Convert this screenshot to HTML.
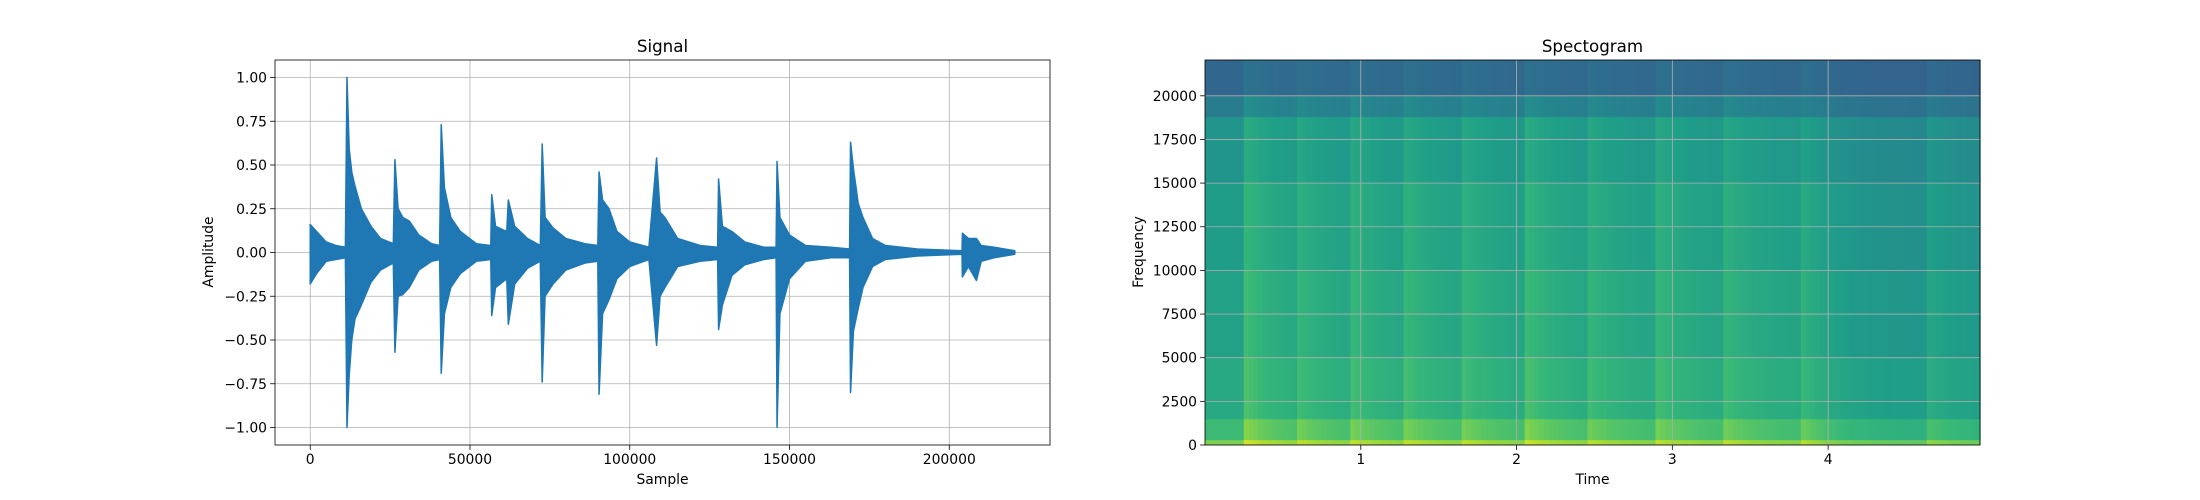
<!DOCTYPE html>
<html><head><meta charset="utf-8"><style>
html,body{margin:0;padding:0;background:#fff}
svg{display:block;font-family:"DejaVu Sans","Liberation Sans",sans-serif}
</style></head><body>
<svg id="fig" width="2200" height="500" viewBox="0 0 2200 500" xmlns="http://www.w3.org/2000/svg"></svg>
<script>
// ---- Signal data (envelope) ----
const sigUpper = [[0,0.16],[2000,0.12],[5000,0.06],[8000,0.04],[11000,0.03],[11500,1.0],[12200,0.59],[13000,0.46],[14000,0.38],[16000,0.25],[19000,0.15],[22000,0.08],[26000,0.05],[26500,0.53],[27500,0.25],[29000,0.2],[31000,0.18],[34000,0.1],[38000,0.05],[40500,0.04],[41000,0.73],[42000,0.37],[44000,0.2],[47000,0.12],[52000,0.05],[56500,0.04],[56800,0.33],[58000,0.15],[61500,0.12],[62000,0.30],[64000,0.15],[68000,0.08],[72000,0.04],[72600,0.62],[73500,0.2],[76000,0.14],[80000,0.08],[86000,0.05],[90000,0.04],[90400,0.46],[91500,0.3],[93500,0.25],[96000,0.12],[100000,0.06],[106000,0.03],[108400,0.54],[109500,0.23],[111000,0.2],[115000,0.08],[122000,0.04],[127500,0.03],[127800,0.42],[129000,0.15],[132000,0.12],[136000,0.06],[142000,0.03],[145800,0.03],[146100,0.52],[147000,0.2],[150000,0.1],[155000,0.04],[163000,0.03],[168800,0.02],[169100,0.63],[170000,0.48],[171500,0.28],[173000,0.2],[176000,0.08],[180000,0.04],[190000,0.02],[204000,0.01],[204100,0.11],[206000,0.08],[208500,0.08],[210000,0.04],[214000,0.03],[220500,0.01]];
const sigLower = [[0,-0.18],[2000,-0.12],[5000,-0.05],[8000,-0.04],[11000,-0.03],[11500,-1.0],[12200,-0.7],[13000,-0.5],[14000,-0.38],[16000,-0.3],[19000,-0.17],[22000,-0.1],[26000,-0.06],[26500,-0.57],[27500,-0.25],[29000,-0.24],[31000,-0.2],[34000,-0.1],[38000,-0.05],[40500,-0.04],[41000,-0.69],[42000,-0.35],[44000,-0.2],[47000,-0.12],[52000,-0.05],[56500,-0.04],[56800,-0.36],[58000,-0.2],[61500,-0.15],[62000,-0.41],[64000,-0.18],[68000,-0.09],[72000,-0.05],[72600,-0.74],[73500,-0.25],[76000,-0.18],[80000,-0.1],[86000,-0.06],[90000,-0.05],[90400,-0.81],[91500,-0.35],[93500,-0.27],[96000,-0.15],[100000,-0.08],[106000,-0.04],[108400,-0.53],[109500,-0.25],[111000,-0.2],[115000,-0.08],[122000,-0.05],[127500,-0.04],[127800,-0.44],[129000,-0.3],[132000,-0.13],[136000,-0.07],[142000,-0.04],[145800,-0.03],[146100,-1.0],[147000,-0.35],[150000,-0.15],[155000,-0.05],[163000,-0.03],[168800,-0.03],[169100,-0.80],[170000,-0.45],[171500,-0.32],[173000,-0.2],[176000,-0.08],[180000,-0.04],[190000,-0.02],[204000,-0.01],[204100,-0.14],[206000,-0.08],[208500,-0.16],[210000,-0.05],[214000,-0.03],[220500,-0.01]];
const sigXTicks = [0,50000,100000,150000,200000];
const sigYTicks = [-1.0,-0.75,-0.5,-0.25,0,0.25,0.5,0.75,1.0];
const sigYTickLabels = ["\u22121.00","\u22120.75","\u22120.50","\u22120.25","0.00","0.25","0.50","0.75","1.00"];
// ---- Spectrogram data ----
const onsetTimes = [0.26,0.59,0.93,1.29,1.65,2.05,2.46,2.90,3.32,3.84,4.64];
const onsetStrength = [1.0,0.8,0.85,0.8,0.8,1.0,0.75,0.8,0.8,1.0,0.6];
const bandTops = [300,1500,5000,10000,15000,18800,20000,22050];
const bandBase = [0.80,0.68,0.60,0.57,0.55,0.52,0.42,0.33];
const bandBoost = [0.14,0.14,0.12,0.12,0.11,0.10,0.08,0.05];
const specXTicks = [1,2,3,4];
const specYTicks = [0,2500,5000,7500,10000,12500,15000,17500,20000];

const NS="http://www.w3.org/2000/svg";
const fig=document.getElementById('fig');
function mk(tag,attrs,parent){const e=document.createElementNS(NS,tag);for(const k in attrs)e.setAttribute(k,attrs[k]);(parent||fig).appendChild(e);return e;}
function txt(s,attrs,parent){const e=mk('text',attrs,parent);e.textContent=s;return e;}

// ===== Signal axes =====
const L={x0:275,x1:1050,y0:60,y1:445,xmin:-11025,xmax:231525,ymin:-1.1,ymax:1.1};
const sx=v=>L.x0+(v-L.xmin)/(L.xmax-L.xmin)*(L.x1-L.x0);
const sy=v=>L.y1-(v-L.ymin)/(L.ymax-L.ymin)*(L.y1-L.y0);
const g1=mk('g',{});


sigXTicks.forEach(t=>{
  const l=mk('line',{x1:sx(t),x2:sx(t),y1:L.y0,y2:L.y1,stroke:'#b0b0b0','stroke-width':0.8},g1);
  
  
  mk('line',{x1:sx(t),x2:sx(t),y1:L.y1,y2:L.y1+4.9,stroke:'#000','stroke-width':0.8},g1);
  const tt=txt(String(t),{x:sx(t),y:L.y1+19,'font-size':13.9,'text-anchor':'middle',fill:'#000'},g1);
  
  
});
sigYTicks.forEach((t,i)=>{
  const l=mk('line',{x1:L.x0,x2:L.x1,y1:sy(t),y2:sy(t),stroke:'#b0b0b0','stroke-width':0.8},g1);
  
  
  mk('line',{x1:L.x0-4.9,x2:L.x0,y1:sy(t),y2:sy(t),stroke:'#000','stroke-width':0.8},g1);
  const tt=txt(sigYTickLabels[i],{x:L.x0-8,y:sy(t)+5,'font-size':13.9,'text-anchor':'end',fill:'#000'},g1);
  
  
});
let d='M'+sigUpper.map(p=>sx(p[0]).toFixed(2)+','+sy(p[1]).toFixed(2)).join(' L');
d+=' L'+sigLower.slice().reverse().map(p=>sx(p[0]).toFixed(2)+','+sy(p[1]).toFixed(2)).join(' L')+' Z';
const wave=mk('path',{d:d,fill:'#1f77b4',stroke:'#1f77b4','stroke-width':1.5,'stroke-linejoin':'round'},g1);


const fr1=mk('rect',{x:L.x0,y:L.y0,width:L.x1-L.x0,height:L.y1-L.y0,fill:'none',stroke:'#000','stroke-width':0.8},g1);


const t1=txt('Signal',{x:(L.x0+L.x1)/2,y:52,'font-size':16.7,'text-anchor':'middle'},g1);


const xl1=txt('Sample',{x:(L.x0+L.x1)/2,y:484,'font-size':13.9,'text-anchor':'middle'},g1);


const yl1=txt('Amplitude',{x:0,y:0,'font-size':13.9,'text-anchor':'middle',transform:'translate(213,252) rotate(-90)'},g1);



// ===== Spectrogram =====
const R={x0:1205,x1:1980,y0:60,y1:445,xmin:0,xmax:4.975,ymin:0,ymax:22050};
const tx=v=>R.x0+(v-R.xmin)/(R.xmax-R.xmin)*(R.x1-R.x0);
const fy=v=>R.y1-(v-R.ymin)/(R.ymax-R.ymin)*(R.y1-R.y0);
const viridis=[[68,1,84],[72,40,120],[62,74,137],[49,104,142],[38,130,142],[31,158,137],[53,183,121],[109,205,89],[180,222,44],[253,231,37]];
function cmap(t){if(!isFinite(t))t=0;t=Math.max(0,Math.min(1,t))*(viridis.length-1);const i=Math.min(viridis.length-2,Math.floor(t));const f=t-i;const a=viridis[i],b=viridis[i+1];return 'rgb('+a.map((v,k)=>Math.round(v+(b[k]-v)*f)).join(',')+')';}
const g2=mk('g',{});


const nCols=160, dt=(R.xmax-R.xmin)/nCols;
for(let c=0;c<nCols;c++){
  const tc=R.xmin+c*dt+dt/2;
  let act=0;
  onsetTimes.forEach((o,k)=>{if(tc>=o){const a=onsetStrength[k]*Math.exp(-(tc-o)/0.22);if(a>act)act=a;}});
  const quiet = tc>3.84? 0.05:0;
  let prev=0;
  bandTops.forEach((bt,b)=>{
    const v=bandBase[b]+bandBoost[b]*act-quiet*(b<7?1:0.3);
    const r=mk('rect',{x:tx(tc-dt/2).toFixed(2),y:fy(bt).toFixed(2),width:(tx(dt)-tx(0)+0.6).toFixed(2),height:(fy(prev)-fy(bt)+0.4).toFixed(2),fill:cmap(v)},g2);
    
    
    prev=bt;
  });
}
specXTicks.forEach(t=>{
  const l=mk('line',{x1:tx(t),x2:tx(t),y1:R.y0,y2:R.y1,stroke:'#b0b0b0','stroke-width':0.8},g2);
  
  
  mk('line',{x1:tx(t),x2:tx(t),y1:R.y1,y2:R.y1+4.9,stroke:'#000','stroke-width':0.8},g2);
  const tt=txt(String(t),{x:tx(t),y:R.y1+19,'font-size':13.9,'text-anchor':'middle'},g2);
  
  
});
specYTicks.forEach(t=>{
  const l=mk('line',{x1:R.x0,x2:R.x1,y1:fy(t),y2:fy(t),stroke:'#b0b0b0','stroke-width':0.8},g2);
  
  
  mk('line',{x1:R.x0-4.9,x2:R.x0,y1:fy(t),y2:fy(t),stroke:'#000','stroke-width':0.8},g2);
  const tt=txt(String(t),{x:R.x0-8,y:fy(t)+5,'font-size':13.9,'text-anchor':'end'},g2);
  
  
});
const fr2=mk('rect',{x:R.x0,y:R.y0,width:R.x1-R.x0,height:R.y1-R.y0,fill:'none',stroke:'#000','stroke-width':0.8},g2);


const t2=txt('Spectogram',{x:(R.x0+R.x1)/2,y:52,'font-size':16.7,'text-anchor':'middle'},g2);


const xl2=txt('Time',{x:(R.x0+R.x1)/2,y:484,'font-size':13.9,'text-anchor':'middle'},g2);


const yl2=txt('Frequency',{x:0,y:0,'font-size':13.9,'text-anchor':'middle',transform:'translate(1143,252) rotate(-90)'},g2);


</script>
</body></html>
